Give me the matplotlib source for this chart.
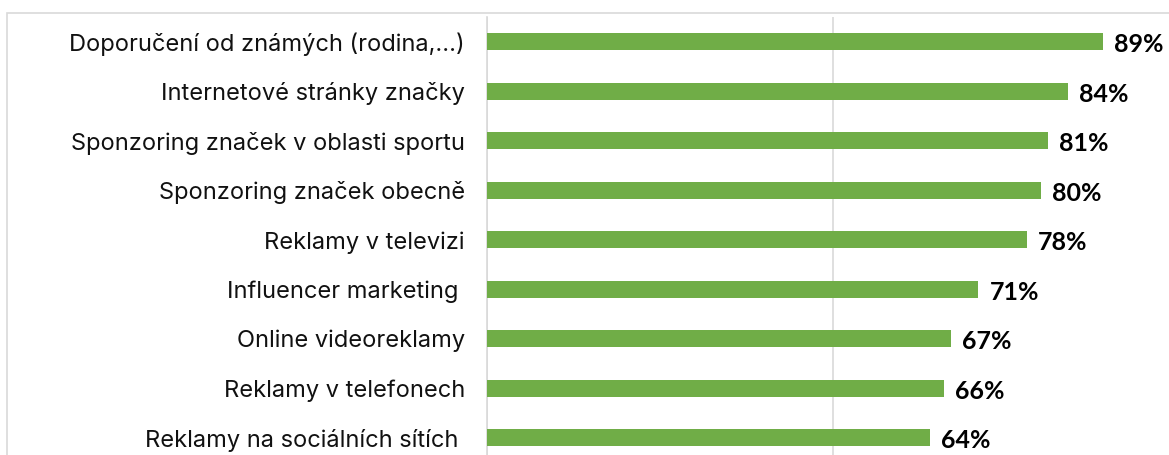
import matplotlib.pyplot as plt
from matplotlib.patches import Rectangle

# Data
kategorie = [
    "Doporučení od známých (rodina,...)",
    "Internetové stránky značky",
    "Sponzoring značek v oblasti sportu",
    "Sponzoring značek obecně",
    "Reklamy v televizi",
    "Influencer marketing ",
    "Online videoreklamy",
    "Reklamy v telefonech",
    "Reklamy na sociálních sítích ",
]
hodnoty = [89, 84, 81, 80, 78, 71, 67, 66, 64]

W, H = 1169, 455
fig = plt.figure(figsize=(W / 100, H / 100), dpi=100)
fig.patch.set_facecolor("white")

# outer chart frame (cropped at right/bottom)
fig.patches.append(Rectangle((7 / W, -0.1), 1.2, 1.1 - 13 / H, transform=fig.transFigure,
                             fill=False, edgecolor="#D9D9D9", linewidth=1.2))

left = 487 / W
right = 1179 / W
top = 1 - 17 / H
bottom = 1 - 462.5 / H
ax = fig.add_axes([left, bottom, right - left, top - bottom])

y = list(range(len(kategorie)))
ax.barh(y, hodnoty, height=0.34, color="#70AD47", zorder=3)

ax.set_xlim(0, 100)
ax.set_ylim(len(kategorie) - 0.5, -0.5)
ax.set_yticks(y)
ax.set_yticklabels(kategorie, fontsize=17, family="Inter", color="#111111")
ax.tick_params(axis="y", length=0, pad=16)
ax.set_xticks([0, 50, 100])
ax.tick_params(axis="x", length=0, labelbottom=False)
ax.grid(axis="x", color="#D9D9D9", linewidth=1.2, zorder=0)

for s in ["top", "right", "bottom"]:
    ax.spines[s].set_visible(False)
ax.spines["left"].set_color("#D9D9D9")
ax.spines["left"].set_linewidth(1.2)

for i, v in enumerate(hodnoty):
    ax.annotate(f"{v}%", (v, i), xytext=(8, -2), textcoords="offset points",
                va="center", ha="left", fontsize=18, fontweight="bold",
                family="Lato", color="black")

fig.savefig("out.png", dpi=100)
